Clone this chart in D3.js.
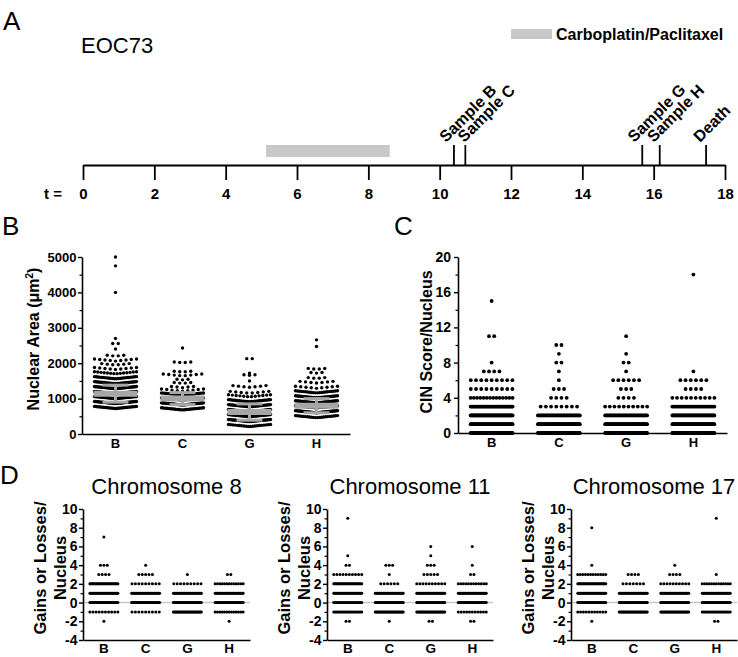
<!DOCTYPE html>
<html>
<head>
<meta charset="utf-8">
<script src="https://cdn.jsdelivr.net/npm/d3@7"></script>
<style>
  body { margin: 0; background: #fff; }
  svg { display: block; font-family: "Liberation Sans", Arial, sans-serif; }
</style>
</head>
<body>
<div id="fig"></div>
<script>
/*
Data
*/

// A: timeline (years)
const timeTicks = [0, 2, 4, 6, 8, 10, 12, 14, 16, 18];
const chemoSpan = [5.13, 8.6];
const eventNames = ["Sample B", "Sample C", "Sample G", "Sample H", "Death"];
const eventTimes = [10.4, 10.72, 15.68, 16.17, 17.47];

const samples = ["B", "C", "G", "H"];

// B: nuclear area, [row value, number of nuclei in the row]
const areaB = [[720, 30], [860, 40], [1000, 40], [1140, 40], [1280, 36], [1420, 32], [1560, 26],
               [1700, 14], [1820, 9], [1950, 6], [2060, 9], [2200, 4], [2400, 1], [2550, 2],
               [2700, 1], [4000, 1], [4750, 1], [5000, 1]];
const areaC = [[680, 28], [820, 40], [960, 36], [1100, 26], [1210, 9], [1310, 5], [1430, 4],
               [1530, 3], [1640, 8], [1750, 4], [2010, 4], [2430, 1]];
const areaG = [[210, 20], [350, 38], [490, 40], [630, 40], [770, 36], [910, 28], [1050, 12],
               [1150, 8], [1320, 7], [1500, 1], [1660, 3], [1720, 1], [2120, 2]];
const areaH = [[460, 22], [600, 40], [740, 40], [880, 38], [1020, 32], [1160, 22], [1290, 9],
               [1440, 7], [1570, 4], [1720, 3], [1830, 4], [2470, 1], [2660, 1]];
const areaMean = [1140, 1000, 620, 800];
const areaSD = [240, 170, 230, 200];
const areaTicks = [0, 1000, 2000, 3000, 4000, 5000];
const areaMinor = [500, 1500, 2500, 3500, 4500];

// C: CIN score per nucleus, [score, number of nuclei]
const cinB = [[0, 60], [1, 60], [2, 60], [3, 40], [4, 14], [5, 9], [6, 9], [7, 4], [8, 1], [11, 2], [15, 1]];
const cinC = [[0, 60], [1, 60], [2, 40], [3, 8], [4, 4], [5, 3], [6, 1], [7, 1], [8, 2], [9, 1], [10, 2]];
const cinG = [[0, 60], [1, 60], [2, 40], [3, 10], [4, 4], [5, 3], [6, 6], [7, 1], [8, 2], [9, 1], [11, 1]];
const cinH = [[0, 60], [1, 60], [2, 50], [3, 30], [4, 10], [5, 4], [6, 6], [7, 1], [18, 1]];
const cinTicks = [0, 4, 8, 12, 16, 20];
const cinMinor = [2, 6, 10, 14, 18];

// D: gains or losses per nucleus, counts for each value below (B, C, G, H)
const gainValues = [-2, -1, 0, 1, 2, 3, 4, 5, 6, 7, 8, 9];
const chr8 = [
  [1, 10, 30, 30, 30, 4, 3, 0, 0, 1, 0, 0],
  [0, 9, 30, 30, 9, 5, 1, 0, 0, 0, 0, 0],
  [0, 30, 30, 30, 9, 1, 0, 0, 0, 0, 0, 0],
  [1, 13, 30, 30, 13, 2, 0, 0, 0, 0, 0, 0]
];
const chr11 = [
  [2, 20, 20, 30, 30, 10, 2, 1, 0, 0, 0, 1],
  [1, 30, 30, 30, 6, 1, 3, 0, 0, 0, 0, 0],
  [2, 30, 30, 30, 10, 5, 3, 1, 1, 0, 0, 0],
  [2, 11, 30, 30, 12, 2, 1, 0, 1, 0, 0, 0]
];
const chr17 = [
  [1, 11, 30, 30, 30, 12, 1, 0, 0, 0, 1, 0],
  [0, 30, 30, 30, 7, 4, 0, 0, 0, 0, 0, 0],
  [0, 30, 30, 30, 10, 4, 1, 0, 0, 0, 0, 0],
  [2, 20, 30, 30, 13, 1, 0, 0, 0, 0, 0, 1]
];
const gainTicks = [-4, -2, 0, 2, 4, 6, 8, 10];
const gainMinor = [-3, -1, 1, 3, 5, 7, 9];

/*
Helpers
*/

const svg = d3.select("#fig")
              .append("svg")
              .attr("width", 738)
              .attr("height", 657);

// horizontal offsets of n dots in one row, squeezed to fit the column width
function rowOffsets(n, step, half) {
  if (n < 2) return [0];
  const s = Math.min(step, 2 * half / (n - 1));
  return d3.range(n).map(i => (i - (n - 1) / 2) * s);
}

function panelLetter(x, y, t) {
  svg.append("text").attr("x", x).attr("y", y).attr("font-size", 26).text(t);
}

function styleAxis(g, size) {
  g.select(".domain").attr("stroke-width", 1.6);
  g.selectAll(".tick line").attr("stroke-width", 1.4);
  g.selectAll("text").attr("font-weight", "bold").attr("font-size", size).attr("fill", "#000");
}

function leftAxis(g, y, ticks, minor, size, pad) {
  g.append("g")
   .call(d3.axisLeft(y).tickValues(minor).tickSize(2.5).tickSizeOuter(0).tickFormat(""))
   .call(a => a.select(".domain").remove())
   .selectAll("line").attr("stroke-width", 1.2);
  g.append("g")
   .call(d3.axisLeft(y).tickValues(ticks).tickSize(4).tickSizeOuter(0).tickPadding(pad).tickFormat(d => String(d)))
   .call(a => styleAxis(a, size));
}

function bottomAxis(g, x, yPos, size, pad) {
  g.append("g")
   .attr("transform", `translate(0,${yPos})`)
   .call(d3.axisBottom(x).tickSize(0).tickSizeOuter(0).tickPadding(pad))
   .call(a => styleAxis(a, size));
}

function yTitle(lines, x0, cy, size) {
  lines.forEach((l, i) => {
    svg.append("text")
       .attr("transform", `translate(${x0 + i * 20},${cy}) rotate(-90)`)
       .attr("text-anchor", "middle")
       .attr("font-weight", "bold")
       .attr("font-size", size)
       .text(l);
  });
}

/*
A: timeline
*/

panelLetter(3, 30, "A");
svg.append("text").attr("x", 81).attr("y", 53).attr("font-size", 22).text("EOC73");

svg.append("rect")
   .attr("x", 511).attr("y", 29).attr("width", 41).attr("height", 10)
   .attr("fill", "#c8c8c8");
svg.append("text")
   .attr("x", 556).attr("y", 40)
   .attr("font-size", 16).attr("font-weight", "bold")
   .text("Carboplatin/Paclitaxel");

const tScale = d3.scaleLinear().domain([0, 18]).range([83, 725]);
const axisY = 165;

svg.append("rect")
   .attr("x", tScale(chemoSpan[0]))
   .attr("y", 145)
   .attr("width", tScale(chemoSpan[1]) - tScale(chemoSpan[0]))
   .attr("height", 12)
   .attr("fill", "#c8c8c8");

svg.append("g")
   .attr("transform", `translate(0,${axisY})`)
   .call(d3.axisBottom(tScale).tickValues(timeTicks).tickSize(15).tickSizeOuter(0).tickPadding(8))
   .call(a => {
     styleAxis(a, 15);
     a.select(".domain").attr("stroke-width", 2.2);
     a.selectAll(".tick line").attr("stroke-width", 1.8);
   });

svg.append("text")
   .attr("x", 44).attr("y", 199)
   .attr("font-size", 15).attr("font-weight", "bold")
   .text("t =");

// labels are hand placed in the original, so nudge each one a little
const labelShift = [-8, -1, -8, -6, -6];
const events = svg.append("g").selectAll("g")
                  .data(eventTimes)
                  .join("g");
events.append("line")
      .attr("x1", d => tScale(d)).attr("x2", d => tScale(d))
      .attr("y1", 145).attr("y2", axisY)
      .attr("stroke", "#000").attr("stroke-width", 1.8);
events.append("text")
      .attr("transform", (d, i) => `translate(${tScale(d) + labelShift[i]},${143}) rotate(-45)`)
      .attr("font-size", 16).attr("font-weight", "bold")
      .text((d, i) => eventNames[i]);

/*
B: nuclear area
*/

panelLetter(2, 235, "B");
const bX = d3.scaleBand().domain(samples).range([82, 350]);
const bY = d3.scaleLinear().domain([0, 5000]).range([434, 257]);
const gB = svg.append("g");

[areaB, areaC, areaG, areaH].forEach((rows, k) => {
  const cx = bX(samples[k]) + bX.bandwidth() / 2;
  const pts = [];
  // Prism-style rows: lowest values in the middle, rising toward the edges
  rows.forEach(([v, n]) => {
    rowOffsets(n, 5.5, 21).forEach(o => {
      pts.push({x: cx + o, v: v + 60 * Math.abs(o) / 21});
    });
  });
  gB.append("g").selectAll("circle")
    .data(pts)
    .join("circle")
    .attr("cx", d => d.x)
    .attr("cy", d => bY(d.v))
    .attr("r", 1.7)
    .attr("fill", "#000");

  // mean and SD in grey
  const m = areaMean[k], s = areaSD[k];
  const grey = gB.append("g").attr("stroke", "#a6a6a6");
  grey.append("line").attr("x1", cx - 22).attr("x2", cx + 22)
      .attr("y1", bY(m)).attr("y2", bY(m)).attr("stroke-width", 6);
  grey.append("line").attr("x1", cx).attr("x2", cx)
      .attr("y1", bY(m - s)).attr("y2", bY(m + s)).attr("stroke-width", 3);
  [m - s, m + s].forEach(v => {
    grey.append("line").attr("x1", cx - 13).attr("x2", cx + 13)
        .attr("y1", bY(v)).attr("y2", bY(v)).attr("stroke-width", 3);
  });
});

const axB = svg.append("g").attr("transform", "translate(82,0)");
leftAxis(axB, bY, areaTicks, areaMinor, 13, 1.5);
bottomAxis(svg, bX, 434, 13, 5);

svg.append("text")
   .attr("transform", "translate(39,339) rotate(-90)")
   .attr("text-anchor", "middle")
   .attr("font-weight", "bold")
   .attr("font-size", 16)
   .call(t => {
     t.append("tspan").text("Nuclear Area (μm");
     t.append("tspan").attr("font-size", 10).attr("dy", -6).text("2");
     t.append("tspan").attr("dy", 6).text(")");
   });

/*
C: CIN score
*/

panelLetter(394, 235, "C");
const cX = d3.scaleBand().domain(samples).range([458, 727]);
const cY = d3.scaleLinear().domain([0, 20]).range([433, 257]);
const gC = svg.append("g");

[cinB, cinC, cinG, cinH].forEach((rows, k) => {
  const cx = cX(samples[k]) + cX.bandwidth() / 2;
  const pts = [];
  rows.forEach(([v, n]) => {
    rowOffsets(n, 5.2, 21).forEach(o => pts.push({x: cx + o, v}));
  });
  gC.append("g").selectAll("circle")
    .data(pts)
    .join("circle")
    .attr("cx", d => d.x)
    .attr("cy", d => cY(d.v))
    .attr("r", 1.9)
    .attr("fill", "#000");
});

const axC = svg.append("g").attr("transform", "translate(458,0)");
leftAxis(axC, cY, cinTicks, cinMinor, 14, 3);
bottomAxis(svg, cX, 433, 13, 5);
yTitle(["CIN Score/Nucleus"], 432, 342, 16);

/*
D: single chromosome gains/losses
*/

panelLetter(0, 484, "D");
const dY = d3.scaleLinear().domain([-4, 10]).range([640, 509]);
const dPanels = [
  {title: "Chromosome 8", counts: chr8, x0: 83, x1: 250},
  {title: "Chromosome 11", counts: chr11, x0: 327, x1: 493},
  {title: "Chromosome 17", counts: chr17, x0: 571, x1: 737}
];

dPanels.forEach(p => {
  const x = d3.scaleBand().domain(samples).range([p.x0, p.x1]);
  const g = svg.append("g");

  g.append("line")
   .attr("x1", p.x0).attr("x2", p.x1)
   .attr("y1", dY(0)).attr("y2", dY(0))
   .attr("stroke", "#c8c8c8").attr("stroke-width", 1.5);

  p.counts.forEach((counts, k) => {
    const cx = x(samples[k]) + x.bandwidth() / 2;
    const pts = [];
    counts.forEach((n, j) => {
      if (n === 0) return;
      rowOffsets(n, 3.4, 14).forEach(o => pts.push({x: cx + o, v: gainValues[j]}));
    });
    g.append("g").selectAll("circle")
     .data(pts)
     .join("circle")
     .attr("cx", d => d.x)
     .attr("cy", d => dY(d.v))
     .attr("r", 1.5)
     .attr("fill", "#000");
  });

  const ax = svg.append("g").attr("transform", `translate(${p.x0},0)`);
  leftAxis(ax, dY, gainTicks, gainMinor, 14, 1.5);
  bottomAxis(svg, x, 640, 13.5, 3);

  svg.append("text")
     .attr("x", (p.x0 + p.x1) / 2).attr("y", 494)
     .attr("text-anchor", "middle")
     .attr("font-size", 22)
     .text(p.title);

  yTitle(["Gains or Losses/", "Nucleus"], p.x0 - 37, 568, 16.5);
});
</script>
</body>
</html>
